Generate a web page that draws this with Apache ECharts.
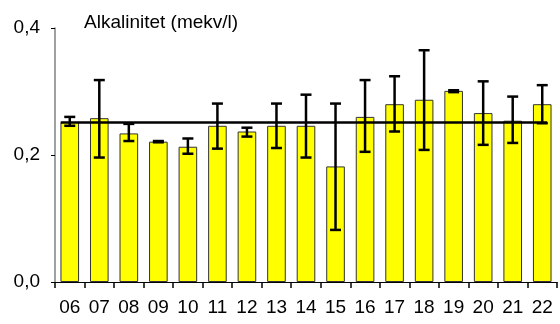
<!DOCTYPE html>
<html>
<head>
<meta charset="utf-8">
<script src="https://cdn.jsdelivr.net/npm/echarts@6/dist/echarts.min.js"></script>
<style>
  html, body { margin: 0; padding: 0; background: #fff; }
  #chartMain { width: 560px; height: 324px; }
</style>
</head>
<body>
<div id="chartMain"></div>
<script>
const years = ['06', '07', '08', '09', '10', '11', '12', '13', '14', '15', '16', '17', '18', '19', '20', '21', '22'];
const alkValues = [0.252, 0.258, 0.234, 0.221, 0.213, 0.246, 0.237, 0.246, 0.246, 0.182, 0.260, 0.280, 0.287, 0.301, 0.266, 0.254, 0.280];
const errLow = [0.246, 0.196, 0.222, 0.220, 0.202, 0.210, 0.229, 0.211, 0.196, 0.082, 0.205, 0.237, 0.208, 0.299, 0.216, 0.219, 0.250];
const errHigh = [0.260, 0.318, 0.249, 0.222, 0.226, 0.281, 0.243, 0.281, 0.295, 0.281, 0.318, 0.324, 0.365, 0.302, 0.316, 0.292, 0.310];
const meanValue = 0.251;
const yTicks = [0, 0.2, 0.4];

initAlkChart();

function initAlkChart() {
  const chart = echarts.init(document.getElementById('chartMain'));
  const errData = years.map((y, i) => [i, errLow[i], errHigh[i]]);
  const font = 'Liberation Sans, Arial, sans-serif';

  const option = {
    animation: false,
    title: {
      text: 'Alkalinitet (mekv/l)',
      left: 79,
      top: 8,
      textStyle: { fontFamily: font, fontSize: 19, fontWeight: 'normal', color: '#000' }
    },
    grid: { left: 55, right: 3, top: 28, bottom: 42 },
    xAxis: {
      type: 'category',
      data: years,
      axisLine: { lineStyle: { color: '#000', width: 1 } },
      axisTick: { show: true, alignWithLabel: false, length: 6, lineStyle: { color: '#000', width: 1.5 } },
      axisLabel: { fontFamily: font, fontSize: 19, color: '#000', margin: 16, interval: 0 }
    },
    yAxis: {
      type: 'value',
      min: yTicks[0],
      max: yTicks[yTicks.length - 1],
      interval: 0.2,
      splitLine: { show: false },
      axisLine: { show: true, lineStyle: { color: '#808080', width: 1.5 } },
      axisTick: { show: true, length: 4, lineStyle: { color: '#000' } },
      axisLabel: {
        fontFamily: font, fontSize: 19, color: '#000', margin: 15,
        formatter: v => v.toFixed(1).replace('.', ',')
      }
    },
    series: [
      {
        name: 'alkalinitet',
        type: 'bar',
        data: alkValues,
        barWidth: '63%',
        itemStyle: { color: '#ffff00', borderColor: '#333', borderWidth: 1 }
      },
      {
        name: 'mean',
        type: 'custom',
        data: [[0, meanValue]],
        z: 5,
        renderItem: function (params, api) {
          const a = api.coord([0, meanValue]);
          const b = api.coord([years.length - 1, meanValue]);
          return {
            type: 'line',
            shape: { x1: a[0] - 9, y1: a[1], x2: b[0] + 5, y2: b[1] },
            style: { stroke: '#000', lineWidth: 2.5 }
          };
        }
      },
      {
        name: 'error',
        type: 'custom',
        data: errData,
        z: 6,
        renderItem: function (params, api) {
          const i = api.value(0);
          const lo = api.coord([i, api.value(1)]);
          const hi = api.coord([i, api.value(2)]);
          const x = lo[0];
          const cap = 5.5;
          const st = { stroke: '#000', lineWidth: 2.5 };
          return {
            type: 'group',
            children: [
              { type: 'line', shape: { x1: x, y1: hi[1], x2: x, y2: lo[1] }, style: st },
              { type: 'line', shape: { x1: x - cap, y1: hi[1], x2: x + cap, y2: hi[1] }, style: st },
              { type: 'line', shape: { x1: x - cap, y1: lo[1], x2: x + cap, y2: lo[1] }, style: st }
            ]
          };
        }
      }
    ]
  };
  chart.setOption(option);
}
</script>
</body>
</html>
